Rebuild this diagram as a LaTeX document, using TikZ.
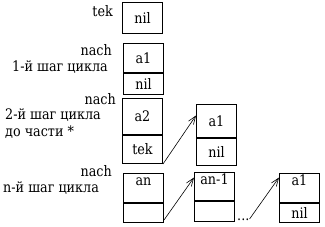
\documentclass[tikz,border=0pt]{standalone}
\usepackage{fontspec}
\setmainfont{DejaVu Serif}[FakeStretch=0.88]
\usetikzlibrary{arrows.meta}
\begin{document}
\begin{tikzpicture}[x=1pt,y=-1pt,
  every node/.style={font=\fontsize{14.5}{17}\selectfont, inner sep=0pt},
  cell/.style={draw, line width=1pt, minimum width=40pt, anchor=north west},
  below cell/.style={draw, line width=1pt, minimum width=40pt, anchor=north west},
  lbl/.style={anchor=base east},
  captxt/.style={anchor=base west},
  link/.style={line width=0.6pt, -{Straight Barb[length=8pt,width=6pt]}}]
\useasboundingbox (0,0) rectangle (325,226);
% labels
\node[lbl] (ltek) at (113,16) {tek};
\node[lbl] (ln1) at (112,55) {nach};
\node[captxt] (c1) at (12,71) {1-й шаг цикла};
\node[lbl] (ln2) at (116,104) {nach};
\node[captxt] (c2a) at (5,119) {2-й шаг цикла};
\node[captxt] (c2b) at (5,136) {до части *};
\node[lbl] (ln3) at (112,176) {nach};
\node[captxt] (c3) at (3,192) {n-й шаг цикла};
% row 1
\node[cell, minimum height=31pt] (b1) at (122,2) {nil};
% row 2
\node[cell, minimum height=29pt] (b2t) at (123,43) {a1};
\node[below cell, minimum height=21pt] (b2b) at (b2t.south west) {nil};
% row 3
\node[cell, minimum height=36pt] (b3t) at (122,98) {a2};
\node[below cell, minimum height=28pt] (b3b) at (b3t.south west) {tek};
\node[cell, minimum height=33pt] (b4t) at (196,104) {a1};
\node[below cell, minimum height=27pt] (b4b) at (b4t.south west) {nil};
% row 4
\node[cell, minimum height=29pt] (b5t) at (123,173) {};
\node[below cell, minimum height=19pt] (b5b) at (b5t.south west) {};
\node[anchor=base] (t5) at ([yshift=-12.5pt]b5t.north) {an};
\node[cell, minimum height=28pt] (b6t) at (194,172) {};
\node[below cell, minimum height=20pt] (b6b) at (b6t.south west) {};
\node[anchor=base] (t6) at ([yshift=-12.5pt]b6t.north) {an-1};
\node[cell, minimum height=29pt] (b7t) at (279,173) {};
\node[below cell, minimum height=19pt] (b7b) at (b7t.south west) {nil};
\node[anchor=base] (t7) at ([yshift=-12.5pt]b7t.north) {a1};
\node[anchor=base west] (dots) at (237,220) {...};
% links
\draw[link] (b3b.south east) -- ([yshift=5.5pt]b4t.west);
\draw[link] ([yshift=3pt]b5b.south east) -- ([yshift=9pt]b6t.west);
\draw[link] ([yshift=1pt]dots.base east) -- ([yshift=10.5pt]b7t.west);
\end{tikzpicture}
\end{document}
